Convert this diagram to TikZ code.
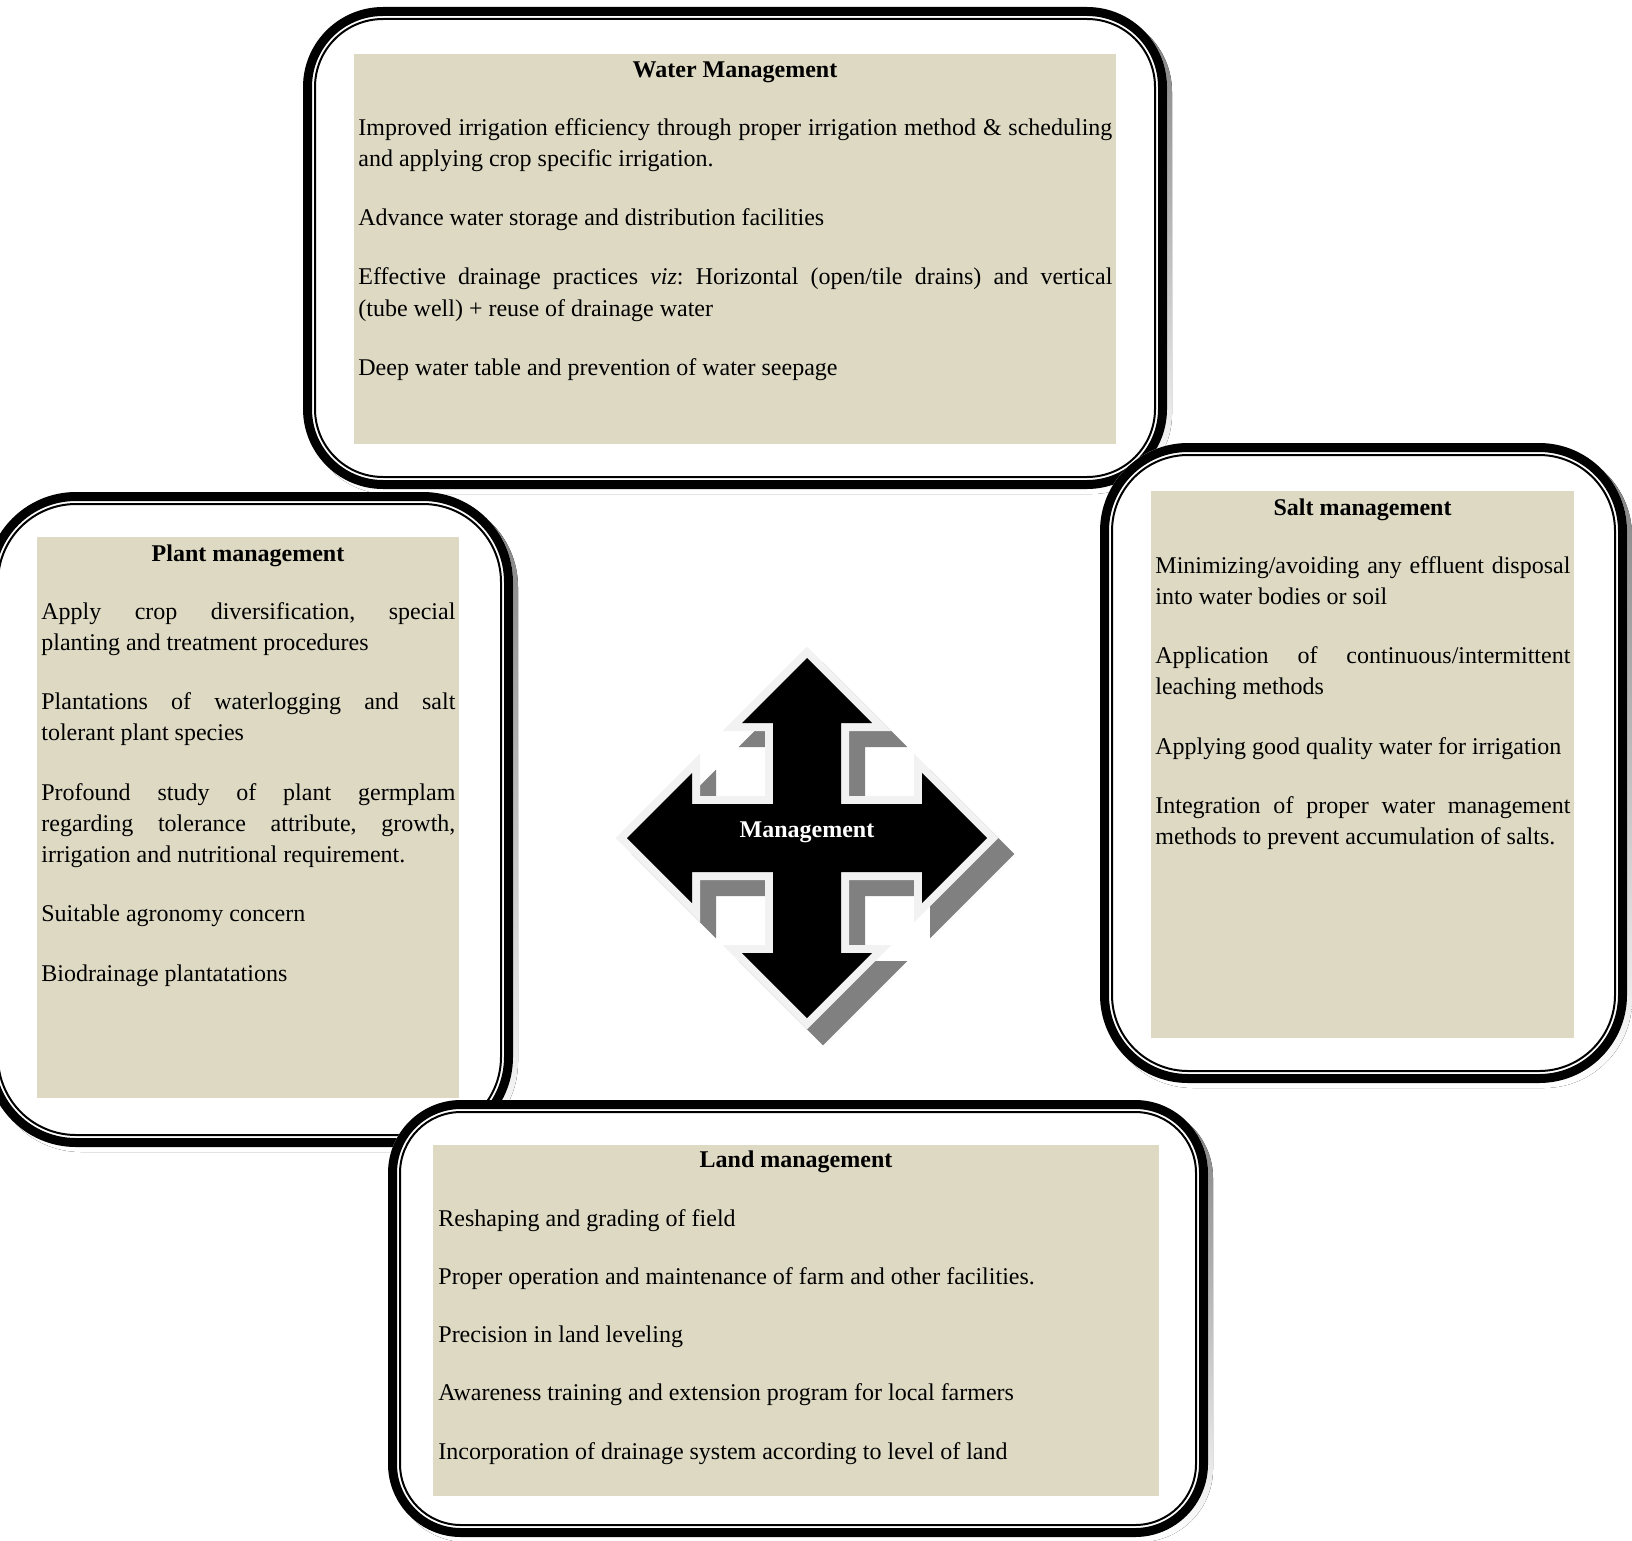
\documentclass[tikz,border=0pt]{standalone}
\usepackage{fontspec}
\setmainfont{Liberation Serif}
\definecolor{beige}{HTML}{DDD9C3}
\definecolor{lite}{HTML}{F2F2F2}
\definecolor{shade}{HTML}{808080}
\hyphenpenalty=10000
\exhyphenpenalty=10000
\tolerance=10000
\frenchspacing
\newcommand\roundbox[5]{%
  \pgfmathsetmacro\rA{#5*0.5}%
  \pgfmathsetmacro\rB{(#5-4.5)*0.5}%
  \pgfmathsetmacro\rC{(#5-12)*0.5}%
  \fill[shade, rounded corners=\rA pt] (#1+5,#2+5) rectangle (#3+5,#4+5);
  \fill[white, rounded corners=\rA pt] (#1,#2) rectangle (#3,#4);
  \draw[line width=4.5pt, rounded corners=\rB pt] (#1+4.5,#2+4.5) rectangle (#3-4.5,#4-4.5);
  \draw[line width=1pt, rounded corners=\rC pt] (#1+12,#2+12) rectangle (#3-12,#4-12);
}
\newcommand\crossshape[1]{%
  \path[#1] (0,-180) -- (-65,-115) -- (-34,-115) -- (-34,-34) -- (-115,-34) -- (-115,-65)
   -- (-180,0) -- (-115,65) -- (-115,34) -- (-34,34) -- (-34,115) -- (-65,115)
   -- (0,180) -- (65,115) -- (34,115) -- (34,34) -- (115,34) -- (115,65)
   -- (180,0) -- (115,-65) -- (115,-34) -- (34,-34) -- (34,-115) -- (65,-115) -- cycle;
}
\tikzset{
  txt/.style={inner sep=0pt, font=\fontsize{12pt}{15.6pt}\selectfont},
  para/.style={txt, anchor=base west, text width=#1, align=justify},
  line/.style={txt, anchor=base west},
  ttl/.style={inner sep=0pt, anchor=base, font=\fontsize{12pt}{15.6pt}\selectfont\bfseries},
}
\begin{document}
\begin{tikzpicture}[x=0.5pt,y=-0.5pt]
\useasboundingbox (0,0) rectangle (1632,1541);
\clip (0,0) rectangle (1632,1541);

% ---------- Water management ----------
\roundbox{303}{7}{1167}{489}{80}
\fill[beige] (354,54) rectangle (1116,444);
\node[ttl] (wt) at (735,78) {Water Management};
\node[para=377pt] (w1) at (358,135) {Improved irrigation efficiency through proper irrigation method \& scheduling\linebreak and applying crop specific irrigation.};
\node[para=377pt] (w2) at (358,225.5) {Advance water storage and distribution facilities};
\node[para=377pt] (w3) at (358,284.8) {Effective drainage practices \textit{viz}: Horizontal (open/tile drains) and vertical\linebreak (tube well) + reuse of drainage water};
\node[para=377pt] (w4) at (358,375.3) {Deep water table and prevention of water seepage};

% ---------- Salt management ----------
\roundbox{1100}{443}{1627}{1083}{88}
\fill[beige] (1151,491) rectangle (1574,1038);
\node[ttl] (st) at (1362.5,515) {Salt management};
\node[para=207.5pt] (s1) at (1155,573) {Minimizing/avoiding any effluent disposal\linebreak into water bodies or soil};
\node[para=207.5pt] (s2) at (1155,663.5) {Application of continuous/intermittent\linebreak leaching methods};
\node[para=207.5pt] (s3) at (1155,754) {Applying good quality water for irrigation};
\node[para=207.5pt] (s4) at (1155,813.3) {Integration of proper water management\linebreak methods to prevent accumulation of salts.};

% ---------- Plant management ----------
\roundbox{-14}{492}{513}{1147}{90}
\fill[beige] (37,537) rectangle (459,1098);
\node[ttl] (pt) at (248,561) {Plant management};
\node[para=207pt] (p1) at (41,619) {Apply crop diversification, special\linebreak planting and treatment procedures};
\node[para=207pt] (p2) at (41,709.5) {Plantations of waterlogging and salt\linebreak tolerant plant species};
\node[para=207pt] (p3) at (41,800) {Profound study of plant germplam\linebreak regarding tolerance attribute, growth,\linebreak irrigation and nutritional requirement.};
\node[para=207pt] (p4) at (41,921.7) {Suitable agronomy concern};
\node[para=207pt] (p5) at (41,981) {Biodrainage plantatations};

% ---------- Land management ----------
\roundbox{388}{1100}{1208}{1537}{73}
\fill[beige] (433,1145) rectangle (1159,1496);
\node[ttl] (lt) at (796,1167.5) {Land management};
\node[line] (l1) at (438,1226) {Reshaping and grading of field};
\node[line] (l2) at (438,1284.3) {Proper operation and maintenance of farm and other facilities.};
\node[line] (l3) at (438,1342.6) {Precision in land leveling};
\node[line] (l4) at (438,1400.9) {Awareness training and extension program for local farmers};
\node[line] (l5) at (438,1459.2) {Incorporation of drainage system according to level of land};

% ---------- central four-way arrow ----------
\crossshape{fill=shade, draw=shade, line width=8pt, shift={(823,854)}}
\crossshape{draw=lite, line width=8pt, shift={(807,838)}}
\crossshape{fill=black, shift={(807,838)}}
\node[ttl, text=white] (mg) at (807,837) {Management};
\end{tikzpicture}
\end{document}
